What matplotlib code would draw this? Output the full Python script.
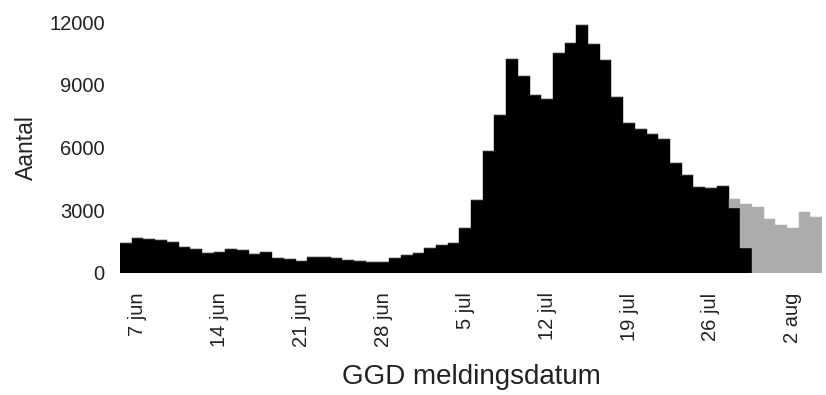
import pandas as pd
import matplotlib.pyplot as plt

plt.rcParams['font.family'] = ['Liberation Sans', 'DejaVu Sans']

# GGD meldingen per dag, 6 jun t/m 4 aug
start_date = '2021-06-06'
end_date = '2021-08-04'

# zwart: gemeld
gemeld = [1455, 1665, 1620, 1560, 1500, 1265, 1135, 945, 1025, 1135,
          1105, 895, 1025, 705, 660, 575, 785, 785, 705, 625,
          575, 510, 545, 735, 840, 975, 1185, 1345, 1425, 2145,
          3505, 5855, 7535, 10225, 9420, 8500, 8340, 10545, 11025, 11855,
          10945, 10190, 8435, 7170, 6900, 6670, 6415, 5265, 4705, 4110,
          4065, 4175, 3105, 1200, 0, 0, 0, 0, 0, 0]
# grijs: nog niet compleet
onvolledig = [0] * 52 + [440, 2090, 3140, 2585, 2305, 2145, 2905, 2665]

tick_dates = ['2021-06-07', '2021-06-14', '2021-06-21', '2021-06-28', '2021-07-05',
              '2021-07-12', '2021-07-19', '2021-07-26', '2021-08-02']
tick_labels = ['7 jun', '14 jun', '21 jun', '28 jun', '5 jul',
               '12 jul', '19 jul', '26 jul', '2 aug']
y_ticks = [0, 3000, 6000, 9000, 12000]

dagen = pd.date_range(start_date, end_date)

fig = plt.figure(figsize=(8.26, 3.95), dpi=100)
ax = fig.add_axes([0.1453, 0.3089, 0.85, 0.635])

ax.bar(dagen, gemeld, width=1.0, color='black', edgecolor='black', linewidth=0.3)
ax.bar(dagen, onvolledig, width=1.0, bottom=gemeld, color='#acacac',
       edgecolor='#acacac', linewidth=0.3)

ax.set_xlim(dagen[0] - pd.Timedelta(hours=12), dagen[-1] + pd.Timedelta(hours=12))
ax.set_ylim(0, 12000)
ax.set_yticks(y_ticks)
ax.set_yticklabels([str(v) for v in y_ticks])
ax.set_xticks(pd.to_datetime(tick_dates))
ax.set_xticklabels(tick_labels, rotation=90)

for s in ax.spines.values():
    s.set_visible(False)
ax.tick_params(axis='both', length=0, labelsize=14.5, colors='#222222')
ax.tick_params(axis='y', pad=11)
ax.tick_params(axis='x', pad=14)

ax.set_ylabel('Aantal', fontsize=16.5, color='#222222', labelpad=8)
ax.set_xlabel('GGD meldingsdatum', fontsize=20, color='#222222', labelpad=12)

fig.savefig('out.png', dpi=100)
